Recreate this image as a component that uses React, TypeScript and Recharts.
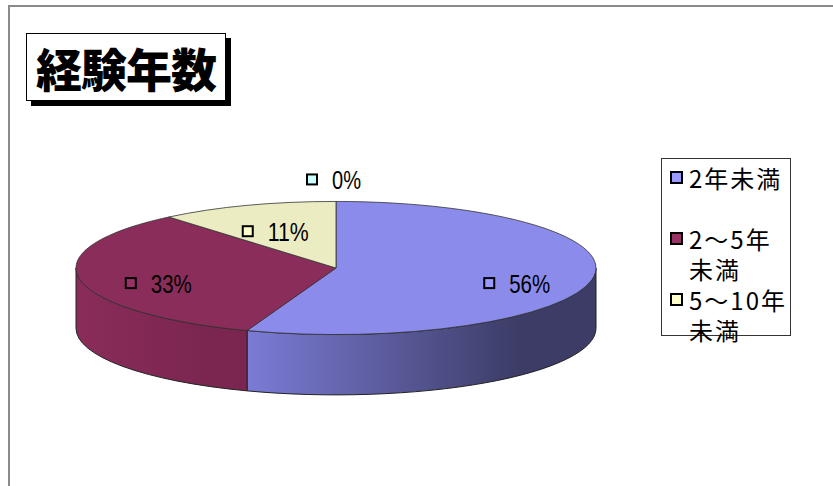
import { PieChart, Pie, Cell } from "recharts"

// 経験年数の内訳 (人数; 表示は割合 56% / 33% / 11% / 0%)
const categories = ["2年未満", "2～5年未満", "5～10年未満", "10年以上"]
const counts = [5, 3, 1, 0]
const legendColors = ["#9999FF", "#993366", "#FFFFCC", "#CCFFFF"]
const topColors = ["#8B8BEC", "#8B2D5A", "#ECECC2", "#C2ECEC"]
const sideFrom = ["#7B7BD6", "#8A2C59", "#D6D6AE", "#AED6D6"]
const sideTo = ["#3C3C66", "#7A2650", "#B0B08E", "#8EB0B0"]
const legendCount = 3

const data = categories.map((name, i) => ({ name, value: counts[i] }))

const TILT = 0.256
const DEPTH = 0.232
const CJK = '"Noto Sans CJK JP", "Noto Sans", sans-serif'
const LATIN = '"Liberation Sans", Arial, sans-serif'

function pt(cx: number, cy: number, rx: number, ry: number, deg: number) {
  const r = (deg * Math.PI) / 180
  return [cx + rx * Math.cos(r), cy - ry * Math.sin(r)]
}

function Slice3D(props: any) {
  const { cx, cy, outerRadius, startAngle, endAngle, index } = props
  if (Math.abs(startAngle - endAngle) < 0.01) return <g />
  const rx = outerRadius
  const ry = outerRadius * TILT
  const depth = outerRadius * DEPTH
  const [x1, y1] = pt(cx, cy, rx, ry, startAngle)
  const [x2, y2] = pt(cx, cy, rx, ry, endAngle)
  const large = Math.abs(startAngle - endAngle) > 180 ? 1 : 0
  const sweep = startAngle > endAngle ? 1 : 0
  const top = `M${cx},${cy} L${x1},${y1} A${rx},${ry} 0 ${large} ${sweep} ${x2},${y2} Z`

  // front wall only where the rim faces the viewer
  const hi = Math.min(Math.max(startAngle, endAngle), 0)
  const lo = Math.max(Math.min(startAngle, endAngle), -180)
  let side = null
  if (hi > lo) {
    const [a1, b1] = pt(cx, cy, rx, ry, hi)
    const [a2, b2] = pt(cx, cy, rx, ry, lo)
    const d = `M${a1},${b1} A${rx},${ry} 0 0 1 ${a2},${b2} L${a2},${b2 + depth} A${rx},${ry} 0 0 0 ${a1},${b1 + depth} Z`
    const gid = `side-${index}`
    side = (
      <g>
        <defs>
          <linearGradient id={gid} gradientUnits="userSpaceOnUse" x1={a2} y1={0} x2={a1} y2={0}>
            <stop offset="0" stopColor={sideFrom[index]} />
            <stop offset="0.78" stopColor={sideTo[index]} />
            <stop offset="1" stopColor={sideTo[index]} />
          </linearGradient>
        </defs>
        <path d={d} fill={`url(#${gid})`} stroke="#222" strokeWidth={1} strokeLinejoin="round" />
      </g>
    )
  }
  return (
    <g>
      {side}
      <path d={top} fill={topColors[index]} stroke="#333" strokeWidth={0.8} strokeLinejoin="round" />
    </g>
  )
}

function renderLabel(props: any) {
  const { cx, cy, midAngle, outerRadius, percent, index } = props
  const rx = outerRadius
  const ry = outerRadius * TILT
  let x: number
  let y: number
  if (percent < 0.005) {
    ;[x, y] = pt(cx, cy, rx, ry, midAngle)
    x += 4
    y -= 21
  } else {
    ;[x, y] = pt(cx, cy, rx * 0.7, ry * 0.7, midAngle)
    x += 2
    y += 8
  }
  const txt = `${Math.round(percent * 100)}%`
  return (
    <g key={`lbl-${index}`}>
      <rect x={x - 33} y={y - 6} width={10} height={10} fill={legendColors[index]} stroke="#000" strokeWidth={2} />
      <text
        x={x - 8}
        y={y + 9}
        fontFamily={LATIN}
        fontSize={25}
        fill="#000"
        textLength={(txt.length - 1) * 12 + 17}
        lengthAdjust="spacingAndGlyphs"
      >
        {txt}
      </text>
    </g>
  )
}

export default function App() {
  return (
    <div style={{ position: "absolute", left: 0, top: 0, width: 833, height: 486, background: "#fff", overflow: "hidden" }}>
      <div style={{ position: "absolute", left: 8, top: 5, width: 900, height: 600, borderTop: "2px solid #8a8a8a", borderLeft: "2px solid #8a8a8a" }} />
      <PieChart
        width={833}
        height={486}
        margin={{ top: 0, right: 0, bottom: 0, left: 0 }}
        style={{ position: "absolute", left: 0, top: 0 }}
      >
        <Pie
          data={data}
          dataKey="value"
          nameKey="name"
          cx={336}
          cy={268}
          outerRadius={260}
          startAngle={90}
          endAngle={-270}
          stroke="#333"
          shape={Slice3D}
          label={renderLabel}
          labelLine={false}
          isAnimationActive={false}
        >
          {data.map((d, i) => (
            <Cell key={d.name} fill={topColors[i]} />
          ))}
        </Pie>
      </PieChart>

      {/* title */}
      <div style={{ position: "absolute", left: 31, top: 38, width: 200, height: 68, background: "#000" }} />
      <div
        style={{
          position: "absolute",
          left: 26,
          top: 33,
          width: 198,
          height: 66,
          background: "#fff",
          border: "1px solid #000",
          fontFamily: CJK,
          fontWeight: 900,
          fontSize: 46,
          lineHeight: "66px",
          textAlign: "center",
          color: "#000",
          letterSpacing: -1,
        }}
      >
        経験年数
      </div>

      {/* legend */}
      <div
        style={{
          position: "absolute",
          left: 661,
          top: 158,
          width: 128,
          height: 176,
          border: "1px solid #333",
          background: "#fff",
        }}
      >
        {categories.slice(0, legendCount).map((c, i) => (
          <div key={c} style={{ position: "absolute", left: 8, top: 4 + i * 61, width: 118, display: "flex" }}>
            <div
              style={{
                width: 9,
                height: 9,
                marginTop: 8,
                marginRight: 6,
                border: "2px solid #000",
                background: legendColors[i],
                flex: "none",
              }}
            />
            <div
              style={{
                fontFamily: CJK,
                fontSize: 24,
                lineHeight: "30px",
                letterSpacing: 2,
                color: "#000",
                width: 104,
                wordBreak: "break-all",
              }}
            >
              {c}
            </div>
          </div>
        ))}
      </div>
    </div>
  )
}
